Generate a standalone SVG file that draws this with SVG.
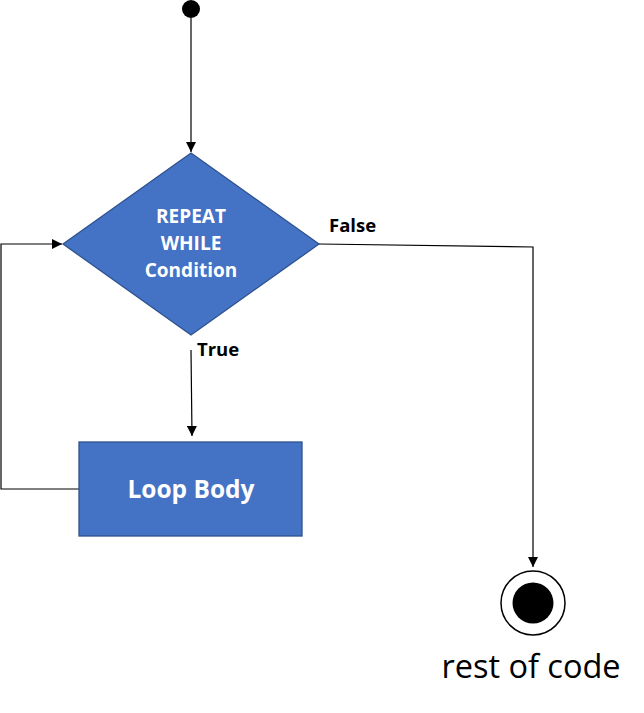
<svg xmlns="http://www.w3.org/2000/svg" width="644" height="713" viewBox="0 0 644 713">
<style>
.shape{fill:#4472C4;stroke:#2F528F;stroke-width:1.3}
.wt{fill:#FFFFFF;font-family:"Open Sans","Liberation Sans",sans-serif;font-weight:bold;text-anchor:middle}
.lbl{fill:#000000;font-family:"Open Sans","Liberation Sans",sans-serif;font-weight:bold;font-size:18.5px}
.conn{fill:none;stroke:#000000;stroke-width:1.2}
</style>
<defs>
<marker id="arr" viewBox="0 0 10 10" refX="10" refY="5" markerWidth="10" markerHeight="10" markerUnits="userSpaceOnUse" orient="auto">
<path d="M0,0 L10,5 L0,10 Z" fill="#000000"/>
</marker>
</defs>
<rect width="644" height="713" fill="#FFFFFF"/>
<g id="connectors">
<line class="conn" x1="191" y1="18" x2="191" y2="152" marker-end="url(#arr)"/>
<polyline class="conn" points="319,244 533,247 533,567" marker-end="url(#arr)"/>
<line class="conn" x1="191" y1="350" x2="192" y2="436" marker-end="url(#arr)"/>
<polyline class="conn" points="79,489 1,489 1,244 62,244" marker-end="url(#arr)"/>
</g>
<g id="start">
<circle cx="191" cy="9" r="9" fill="#000000"/>
</g>
<g id="condition">
<polygon class="shape" points="191,153 319,244 191,335 63,244"/>
<text class="wt" font-size="19" x="191" y="223">REPEAT</text>
<text class="wt" font-size="19" x="191" y="250">WHILE</text>
<text class="wt" font-size="19" x="191" y="277">Condition</text>
</g>
<g id="loop-body">
<rect class="shape" x="79" y="442" width="223" height="94"/>
<text class="wt" font-size="24.5" x="191" y="498">Loop Body</text>
</g>
<g id="end">
<circle cx="533" cy="603" r="32" fill="#FFFFFF" stroke="#000000" stroke-width="1.5"/>
<circle cx="533" cy="603" r="20.5" fill="#000000"/>
<text x="531" y="678" font-family="'Open Sans','Liberation Sans',sans-serif" font-size="32.5" text-anchor="middle" fill="#000000">rest of code</text>
</g>
<g id="labels">
<text class="lbl" x="329" y="232">False</text>
<text class="lbl" x="197" y="356">True</text>
</g>
</svg>
